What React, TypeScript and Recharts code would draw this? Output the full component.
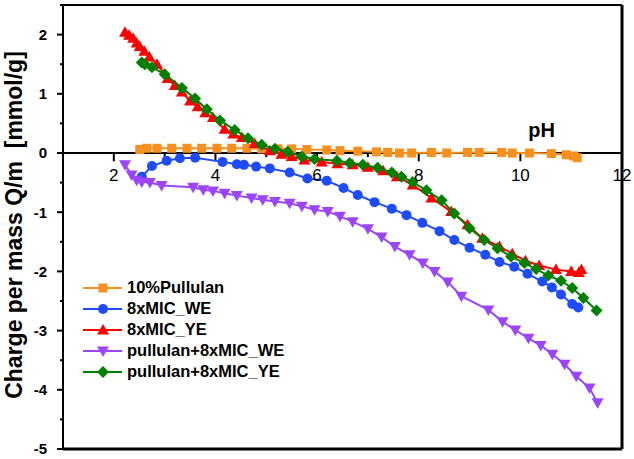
import React from 'react';
import {
  ScatterChart,
  Scatter,
  XAxis,
  YAxis,
  ReferenceLine,
  ReferenceDot
} from 'recharts';

// 10%Pullulan
const pullulanPh = [2.51, 2.65, 2.85, 3.14, 3.44, 3.73, 4.03, 4.32, 4.62, 4.91, 5.23, 5.5, 5.8, 6.19, 6.45, 6.8, 7.17, 7.39, 7.62, 7.86, 8.25, 8.55, 8.96, 9.19, 9.63, 9.84, 10.18, 10.61, 10.9, 11.05, 11.12];
const pullulanQ = [0.06, 0.08, 0.08, 0.08, 0.08, 0.08, 0.08, 0.08, 0.08, 0.07, 0.07, 0.07, 0.06, 0.05, 0.04, 0.03, 0.02, 0.01, 0.0, 0.0, 0.01, 0.0, 0.01, 0.01, 0.01, 0.0, 0.0, -0.01, -0.03, -0.05, -0.08];

// 8xMIC_WE
const micWePh = [2.55, 2.75, 3.04, 3.3, 3.6, 4.14, 4.42, 4.56, 4.8, 5.07, 5.46, 5.81, 6.19, 6.52, 6.8, 7.13, 7.47, 7.76, 8.07, 8.41, 8.7, 9.0, 9.31, 9.59, 9.88, 10.14, 10.43, 10.62, 10.8, 11.02, 11.14];
const micWeQ = [-0.4, -0.22, -0.13, -0.09, -0.08, -0.15, -0.19, -0.2, -0.23, -0.26, -0.33, -0.43, -0.47, -0.59, -0.71, -0.83, -0.94, -1.05, -1.18, -1.32, -1.47, -1.6, -1.72, -1.84, -1.92, -2.04, -2.17, -2.27, -2.39, -2.55, -2.61];

// 8xMIC_YE
const micYePh = [2.22, 2.3, 2.38, 2.45, 2.51, 2.6, 2.7, 2.85, 3.06, 3.2, 3.34, 3.5, 3.65, 3.8, 3.95, 4.18, 4.35, 4.52, 4.77, 5.07, 5.3, 5.5, 5.75, 6.09, 6.4, 6.7, 7.0, 7.3, 7.57, 7.88, 8.25, 8.64, 8.96, 9.25, 9.59, 9.84, 10.1, 10.37, 10.7, 11.0, 11.15, 11.2];
const micYeQ = [2.04, 1.99, 1.94, 1.86, 1.8, 1.72, 1.62, 1.5, 1.26, 1.14, 1.03, 0.88, 0.78, 0.68, 0.6, 0.4, 0.32, 0.26, 0.16, 0.04, -0.02, -0.06, -0.12, -0.15, -0.18, -0.2, -0.24, -0.3, -0.4, -0.54, -0.76, -0.99, -1.21, -1.44, -1.58, -1.7, -1.82, -1.9, -1.97, -2.0, -2.02, -1.97];

// pullulan+8xMIC_WE
const pulWePh = [2.22, 2.35, 2.45, 2.55, 2.71, 2.94, 3.56, 3.76, 3.95, 4.18, 4.42, 4.71, 4.93, 5.17, 5.46, 5.7, 5.95, 6.21, 6.45, 6.7, 7.0, 7.27, 7.53, 7.82, 8.08, 8.31, 8.57, 8.84, 9.37, 9.65, 9.9, 10.16, 10.4, 10.63, 10.87, 11.1, 11.36, 11.52];
const pulWeQ = [-0.2, -0.37, -0.46, -0.49, -0.5, -0.55, -0.58, -0.62, -0.64, -0.68, -0.72, -0.76, -0.79, -0.82, -0.85, -0.9, -0.96, -0.99, -1.07, -1.16, -1.28, -1.42, -1.58, -1.72, -1.86, -2.0, -2.18, -2.42, -2.65, -2.85, -2.99, -3.13, -3.25, -3.4, -3.57, -3.77, -3.97, -4.22];

// pullulan+8xMIC_YE
const pulYePh = [2.55, 2.61, 2.75, 3.0, 3.34, 3.6, 3.83, 4.09, 4.38, 4.64, 4.91, 5.17, 5.42, 5.7, 5.95, 6.39, 6.64, 6.9, 7.19, 7.47, 7.66, 7.88, 8.15, 8.45, 8.7, 9.0, 9.29, 9.55, 9.82, 10.08, 10.31, 10.55, 10.8, 11.02, 11.24, 11.5];
const pulYeQ = [1.53, 1.5, 1.45, 1.33, 1.1, 0.92, 0.74, 0.55, 0.39, 0.25, 0.14, 0.07, 0.02, -0.06, -0.1, -0.13, -0.17, -0.2, -0.25, -0.33, -0.4, -0.49, -0.63, -0.8, -1.02, -1.27, -1.47, -1.61, -1.75, -1.86, -1.96, -2.07, -2.16, -2.28, -2.45, -2.66];

const xMajor = [2, 4, 6, 8, 10, 12];
const xMinor = [3, 5, 7, 9, 11];
const yTicks = [-5, -4.5, -4, -3.5, -3, -2.5, -2, -1.5, -1, -0.5, 0, 0.5, 1, 1.5, 2, 2.5];

const toPoints = (ph: number[], q: number[]) => ph.map((p, i) => ({ ph: p, q: q[i] }));

type MarkerKind = 'square' | 'circle' | 'up' | 'down' | 'diamond';

const series: { name: string; color: string; marker: MarkerKind; data: { ph: number; q: number }[] }[] = [
  { name: '10%Pullulan', color: '#f7901e', marker: 'square', data: toPoints(pullulanPh, pullulanQ) },
  { name: '8xMIC_WE', color: '#1f4bff', marker: 'circle', data: toPoints(micWePh, micWeQ) },
  { name: '8xMIC_YE', color: '#ff0000', marker: 'up', data: toPoints(micYePh, micYeQ) },
  { name: 'pullulan+8xMIC_WE', color: '#9b45ff', marker: 'down', data: toPoints(pulWePh, pulWeQ) },
  { name: 'pullulan+8xMIC_YE', color: '#008000', marker: 'diamond', data: toPoints(pulYePh, pulYeQ) }
];

const Marker = ({ kind, cx, cy, color }: { kind: MarkerKind; cx: number; cy: number; color: string }) => {
  switch (kind) {
    case 'square':
      return <rect x={cx - 4.5} y={cy - 4.5} width={9} height={9} fill={color} />;
    case 'circle':
      return <circle cx={cx} cy={cy} r={5} fill={color} />;
    case 'up':
      return <polygon points={`${cx},${cy - 6} ${cx + 6},${cy + 4.5} ${cx - 6},${cy + 4.5}`} fill={color} />;
    case 'down':
      return <polygon points={`${cx},${cy + 6} ${cx + 6},${cy - 4.5} ${cx - 6},${cy - 4.5}`} fill={color} />;
    default:
      return <polygon points={`${cx},${cy - 6} ${cx + 6},${cy} ${cx},${cy + 6} ${cx - 6},${cy}`} fill={color} />;
  }
};

// left axis: integer ticks get a label, half steps only a short mark
const YTick = ({ x, y, payload }: any) => {
  const major = Number.isInteger(payload.value);
  return (
    <g>
      <line x1={x - (major ? 6 : 3)} x2={x} y1={y} y2={y} stroke="#000" strokeWidth={2} />
      {major && (
        <text x={x - 16} y={y} dy="0.36em" textAnchor="end" fontWeight="bold" fontSize={15} fill="#000">
          {payload.value}
        </text>
      )}
    </g>
  );
};

const YLabel = ({ viewBox }: any) => {
  const cx = viewBox.x + 14;
  const cy = viewBox.y + viewBox.height / 2 - 2;
  return (
    <text
      x={cx}
      y={cy}
      transform={`rotate(-90, ${cx}, ${cy})`}
      textAnchor="middle"
      fontWeight="bold"
      fontSize={23}
      fill="#000"
      style={{ whiteSpace: 'pre' }}
    >
      {'Charge per mass Q/m  [mmol/g]'}
    </text>
  );
};

const LegendBox = () => (
  <div style={{ position: 'absolute', left: 83, top: 277 }}>
    {series.map((s) => (
      <div key={s.name} style={{ display: 'flex', alignItems: 'center', height: 21 }}>
        <svg width={39} height={14}>
          <line x1={0} x2={39} y1={7} y2={7} stroke={s.color} strokeWidth={2} />
          <Marker kind={s.marker} cx={20} cy={7} color={s.color} />
        </svg>
        <span style={{ marginLeft: 5, fontWeight: 'bold', fontSize: 16.5, color: '#000' }}>{s.name}</span>
      </div>
    ))}
  </div>
);

const App = () => (
  <div style={{ position: 'absolute', left: 0, top: 0, width: 634, height: 459, background: '#fff', fontFamily: 'Arial, "Liberation Sans", sans-serif' }}>
    <ScatterChart width={634} height={459} margin={{ top: 4, right: 11, bottom: 9, left: 8 }}>
      <XAxis xAxisId={0} type="number" dataKey="ph" domain={[1, 12]} orientation="bottom" tick={false} tickLine={false} height={1} axisLine={{ stroke: '#000', strokeWidth: 3 }} />
      <XAxis xAxisId="top" type="number" dataKey="ph" domain={[1, 12]} orientation="top" tick={false} tickLine={false} height={1} axisLine={{ stroke: '#000', strokeWidth: 2 }} />
      <YAxis
        yAxisId={0}
        type="number"
        dataKey="q"
        domain={[-5, 2.5]}
        ticks={yTicks}
        interval={0}
        tick={<YTick />}
        tickLine={false}
        tickSize={0}
        tickMargin={0}
        width={55}
        axisLine={{ stroke: '#000', strokeWidth: 2 }}
        label={{ content: <YLabel /> }}
      />
      <YAxis yAxisId="right" type="number" dataKey="q" domain={[-5, 2.5]} orientation="right" tick={false} tickLine={false} width={1} axisLine={{ stroke: '#000', strokeWidth: 3 }} />

      {/* x axis crossing at Q = 0 */}
      <ReferenceLine y={0} stroke="#000" strokeWidth={2} />
      {xMajor.map((t) => (
        <ReferenceLine
          key={`maj${t}`}
          segment={[{ x: t, y: 0 }, { x: t, y: -0.14 }]}
          stroke="#000"
          strokeWidth={2}
          label={{ value: t, position: 'bottom', offset: 8, fontSize: 17, fill: '#000' }}
        />
      ))}
      {xMinor.map((t) => (
        <ReferenceLine key={`min${t}`} segment={[{ x: t, y: 0 }, { x: t, y: -0.07 }]} stroke="#000" strokeWidth={2} />
      ))}
      <ReferenceDot x={10.42} y={0} r={0} fill="none" stroke="none" label={{ value: 'pH', position: 'top', offset: 16, fontSize: 20, fontWeight: 'bold', fill: '#000' }} />

      {series.map((s) => (
        <Scatter
          key={s.name}
          name={s.name}
          data={s.data}
          fill={s.color}
          line={{ stroke: s.color, strokeWidth: 2 }}
          lineType="joint"
          shape={(p: any) => <Marker kind={s.marker} cx={p.cx} cy={p.cy} color={s.color} />}
          isAnimationActive={false}
        />
      ))}
    </ScatterChart>
    <LegendBox />
  </div>
);

export default App;
